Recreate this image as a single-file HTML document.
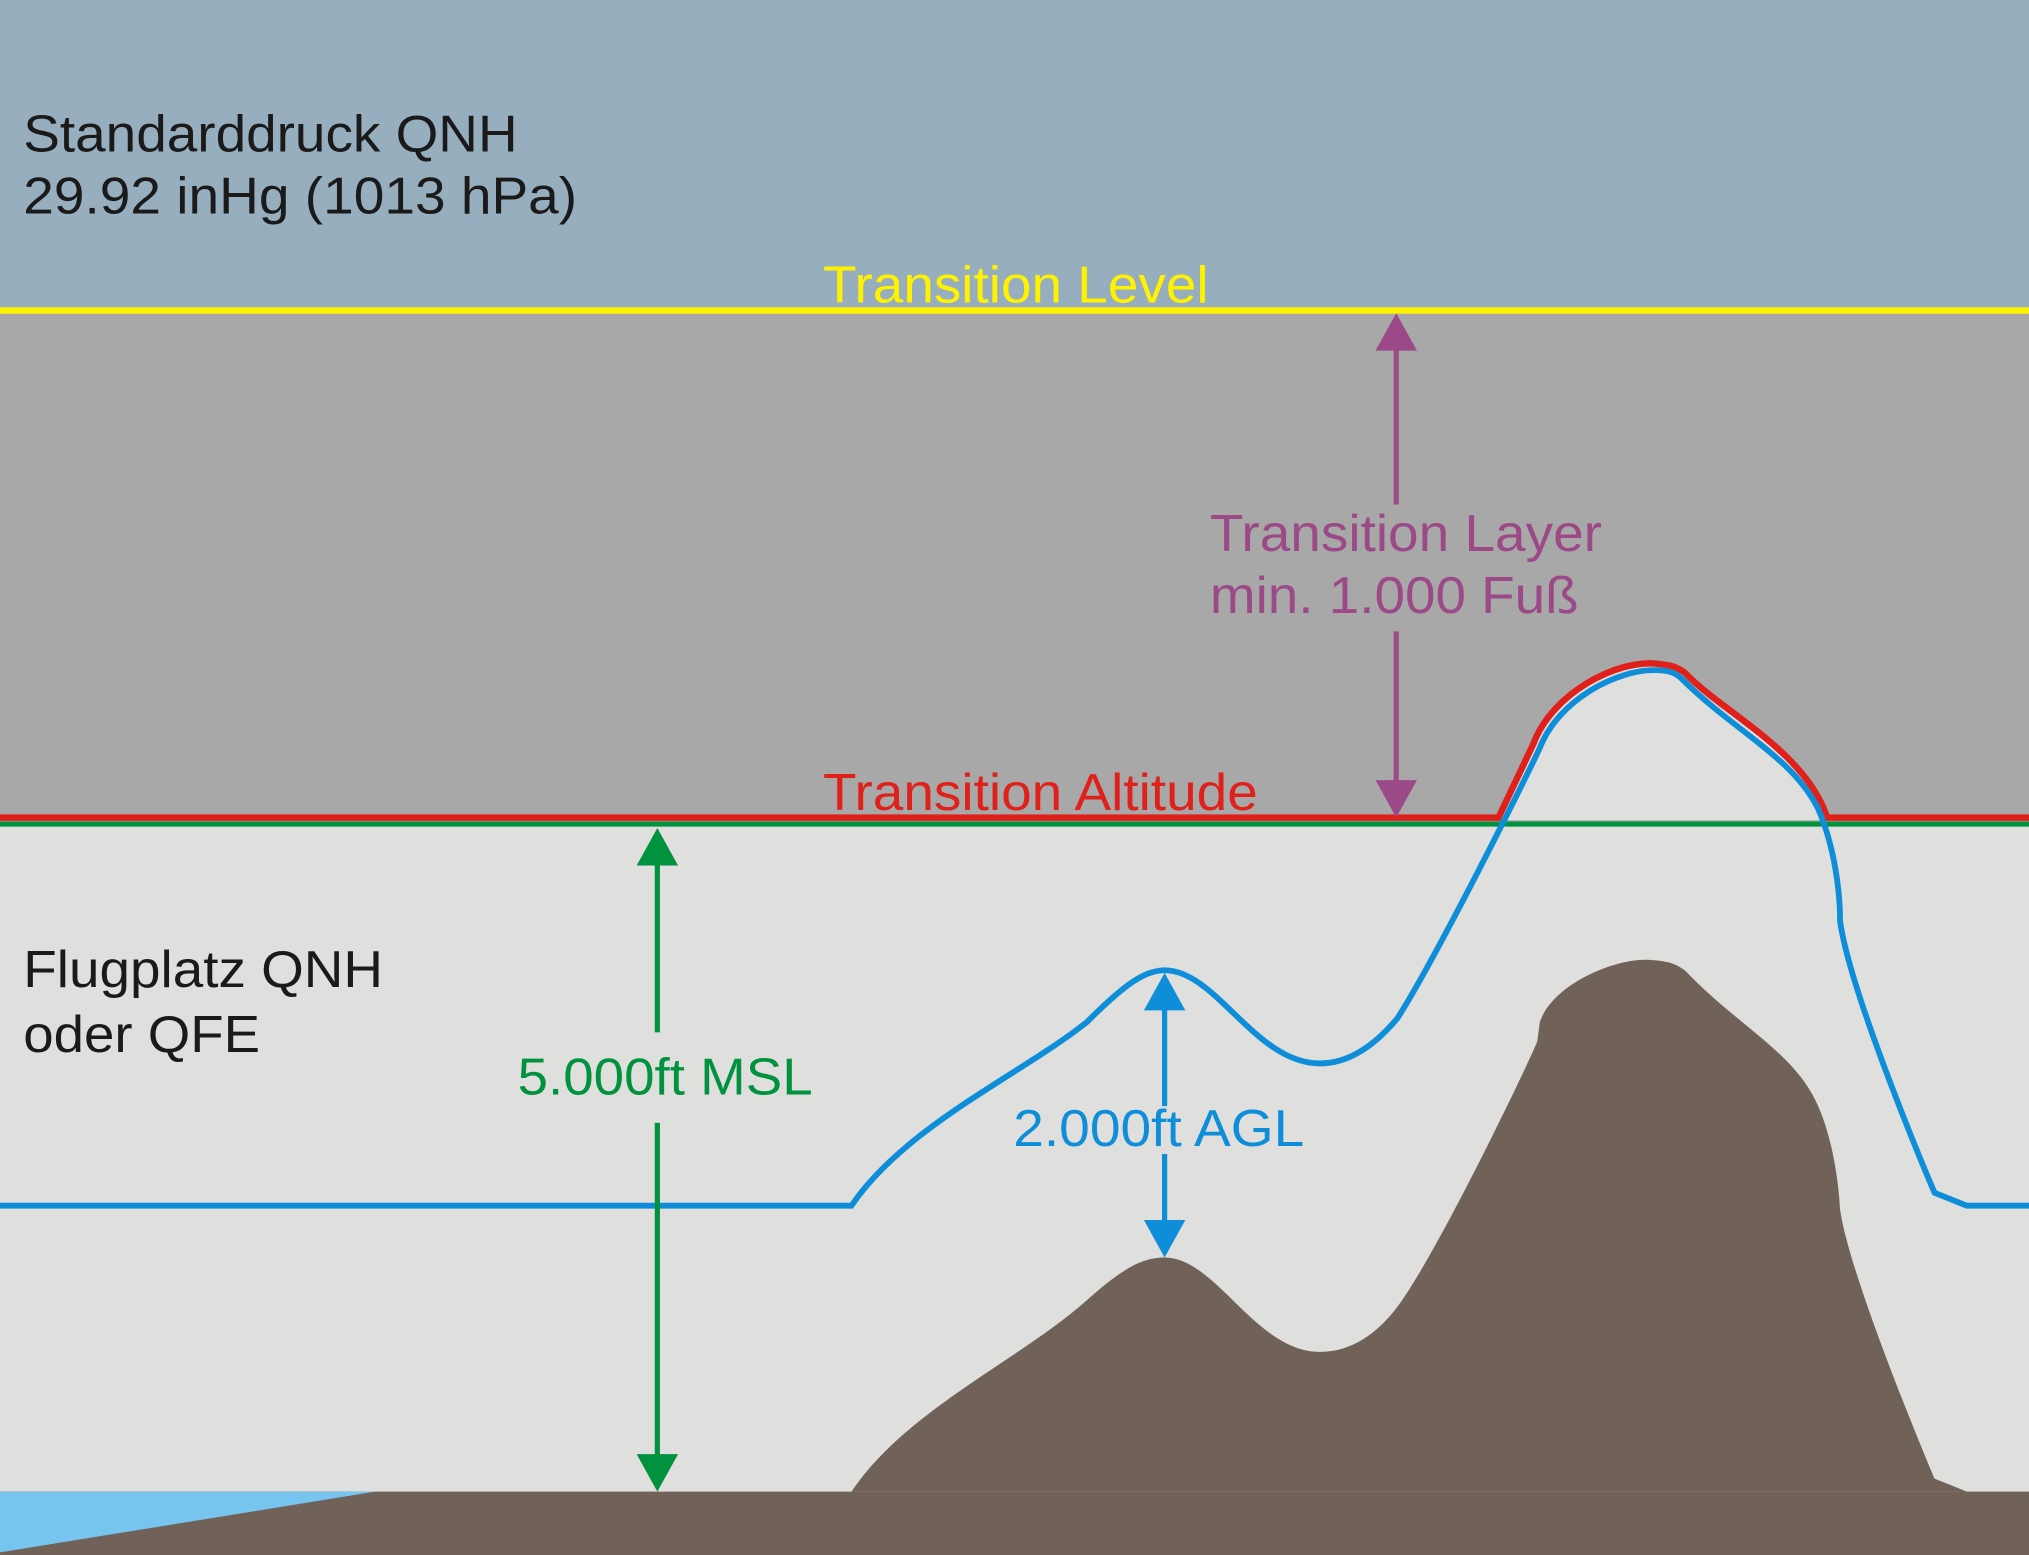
<!DOCTYPE html>
<html><head><meta charset="utf-8"><style>html,body{margin:0;padding:0;overflow:hidden}svg{display:block}text{font-family:"Liberation Sans",Arial,sans-serif;font-size:40px}</style></head>
<body>
<svg width="2029" height="1555" viewBox="0 0 1568 1202" preserveAspectRatio="none" xmlns="http://www.w3.org/2000/svg">
<rect x="0" y="0" width="1568" height="240" fill="#97aebe"/>
<rect x="0" y="240" width="1568" height="395" fill="#a8a8a8"/>
<rect x="0" y="635" width="1568" height="567" fill="#dfdfdd"/>
<path d="M1158,634 L1185,575 C1200,535 1250,510 1280,513 C1290,514 1295,515 1302,520 C1330,550 1395,580 1412,634 Z" fill="#dfdfdd"/>
<rect x="0" y="1153" width="1568" height="49" fill="#716259"/>
<polygon points="0,1153 290,1153 0,1200" fill="#77c4ee"/>
<path d="M658,1153 C700,1090 790,1050 840,1005 C870,978 885,972 900,972 C940,972 970,1045 1020,1045 C1045,1045 1065,1030 1080,1010 C1110,970 1180,825 1188,805 L1190,790 C1200,760 1250,740 1275,742 C1290,743 1295,745 1302,750 C1340,790 1380,810 1400,845 C1420,880 1422,935 1422,935 C1430,990 1495,1143 1495,1143 L1520,1153 Z" fill="#716259"/>
<line x1="0" y1="240" x2="1568" y2="240" stroke="#fff200" stroke-width="5"/>
<line x1="0" y1="637" x2="1568" y2="637" stroke="#00923f" stroke-width="4"/>
<path d="M0,632 L1158,632 L1185,575 C1200,535 1250,510 1280,513 C1290,514 1295,515 1302,520 C1330,550 1395,580 1412,632 L1568,632" fill="none" stroke="#e0201b" stroke-width="5"/>
<path d="M0,932 L658,932 C700,870 790,830 840,790 C870,760 885,750 900,750 C940,750 970,822 1020,822 C1045,822 1065,805 1080,787 C1110,740 1180,600 1190,578 C1205,540 1250,518 1278,518 C1290,518 1295,520 1300,525 C1340,565 1385,585 1405,625 C1418,655 1422,690 1422,712 C1430,770 1495,922 1495,922 L1520,932 L1568,932" fill="none" stroke="#0e8ed8" stroke-width="4.5"/>
<g stroke="#9b4a87" stroke-width="4" fill="#9b4a87">
<line x1="1079" y1="260" x2="1079" y2="390"/><line x1="1079" y1="488" x2="1079" y2="612"/>
<polygon points="1079,242 1063,271 1095,271" stroke="none"/><polygon points="1079,632 1063,603 1095,603" stroke="none"/>
</g>
<g stroke="#00923f" stroke-width="4" fill="#00923f">
<line x1="508" y1="660" x2="508" y2="798"/><line x1="508" y1="868" x2="508" y2="1132"/>
<polygon points="508,640 492,669 524,669" stroke="none"/><polygon points="508,1153 492,1124 524,1124" stroke="none"/>
</g>
<g stroke="#0e8ed8" stroke-width="4" fill="#0e8ed8">
<line x1="900" y1="770" x2="900" y2="855"/><line x1="900" y1="892" x2="900" y2="952"/>
<polygon points="900,752 884,781 916,781" stroke="none"/><polygon points="900,972 884,943 916,943" stroke="none"/>
</g>
<text x="18" y="117" fill="#1a1a1a" textLength="382" lengthAdjust="spacingAndGlyphs">Standarddruck QNH</text>
<text x="18" y="165" fill="#1a1a1a" textLength="428" lengthAdjust="spacingAndGlyphs">29.92 inHg (1013 hPa)</text>
<text x="636" y="234" fill="#fff200" textLength="298" lengthAdjust="spacingAndGlyphs">Transition Level</text>
<text x="935" y="426" fill="#9b4a87" textLength="303" lengthAdjust="spacingAndGlyphs">Transition Layer</text>
<text x="935" y="474" fill="#9b4a87" textLength="285" lengthAdjust="spacingAndGlyphs">min. 1.000 Fuß</text>
<text x="636" y="626" fill="#e0201b" textLength="336" lengthAdjust="spacingAndGlyphs">Transition Altitude</text>
<text x="18" y="763" fill="#1a1a1a" textLength="278" lengthAdjust="spacingAndGlyphs">Flugplatz QNH</text>
<text x="18" y="813" fill="#1a1a1a" textLength="183" lengthAdjust="spacingAndGlyphs">oder QFE</text>
<text x="400" y="846" fill="#00923f" textLength="228" lengthAdjust="spacingAndGlyphs">5.000ft MSL</text>
<text x="783" y="886" fill="#0e8ed8" textLength="225" lengthAdjust="spacingAndGlyphs">2.000ft AGL</text>
</svg>
</body></html>
